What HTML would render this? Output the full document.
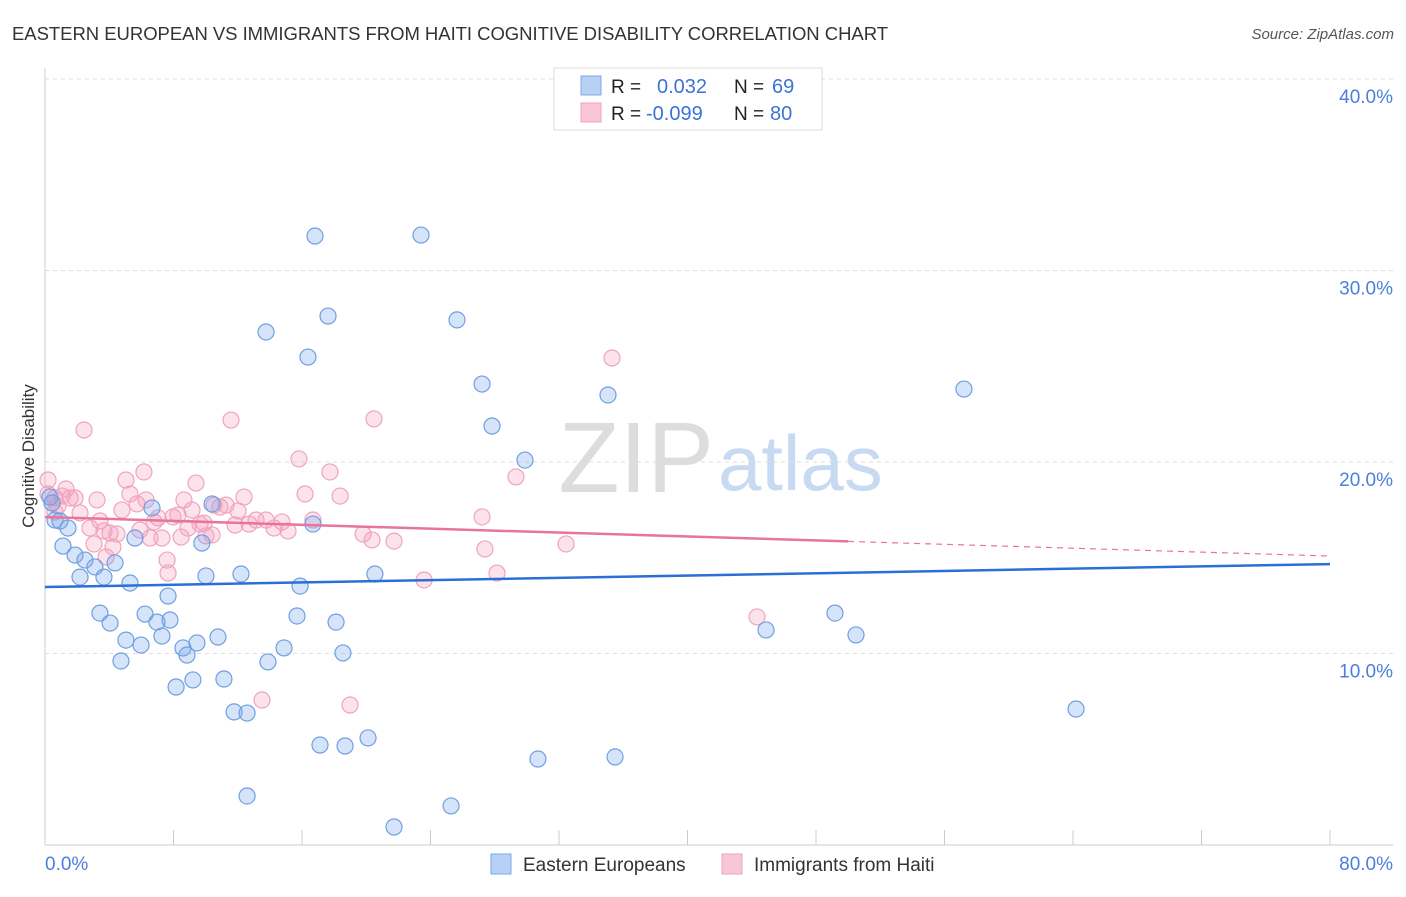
<!DOCTYPE html>
<html><head><meta charset="utf-8"><style>
body{margin:0;background:#fff;font-family:"Liberation Sans",sans-serif;}
svg text{font-family:"Liberation Sans",sans-serif;}
</style></head><body>
<svg id="c" width="1406" height="892">
<text x="12" y="40" font-size="18.5" fill="#333" textLength="876">EASTERN EUROPEAN VS IMMIGRANTS FROM HAITI COGNITIVE DISABILITY CORRELATION CHART</text>
<text x="1394" y="39" font-size="15" font-style="italic" fill="#555" text-anchor="end">Source: ZipAtlas.com</text>
<text x="714" y="492" font-size="100" font-family="Liberation Serif" fill="#ddd" text-anchor="end">ZIP</text>
<text x="718" y="490" font-size="78" fill="#c8daf2">atlas</text>
<text x="34" y="456" font-size="17" fill="#333" text-anchor="middle" transform="rotate(-90 34 456)">Cognitive Disability</text>
<g id="grid"></g><g id="marks"></g>
<g>
<rect x="554" y="68" width="268" height="62" fill="#fff" stroke="#ddd"/>
<rect x="581" y="76" width="20" height="19" fill="#b7d1f5" stroke="#7ea8e6"/>
<rect x="581" y="103" width="20" height="19" fill="#f9c6d6" stroke="#eea3bc"/>
<text x="611" y="93" font-size="19" fill="#222">R =</text><text x="657" y="93" font-size="20" fill="#3b73d6">0.032</text>
<text x="734" y="93" font-size="19" fill="#222">N =</text><text x="772" y="93" font-size="20" fill="#3b73d6">69</text>
<text x="611" y="120" font-size="19" fill="#222">R =</text><text x="646" y="120" font-size="20" fill="#3b73d6">-0.099</text>
<text x="734" y="120" font-size="19" fill="#222">N =</text><text x="770" y="120" font-size="20" fill="#3b73d6">80</text>
</g>
<g>
<rect x="491" y="854" width="20" height="20" fill="#b7d1f5" stroke="#7ea8e6"/>
<text x="523" y="871" font-size="19" fill="#333">Eastern Europeans</text>
<rect x="722" y="854" width="20" height="20" fill="#f9c6d6" stroke="#eea3bc"/>
<text x="754" y="871" font-size="19" fill="#333">Immigrants from Haiti</text>
</g>
</svg>
<script>
const yTicks=[10,20,30,40];
const xLabels=["0.0%","80.0%"];
const bluePx=[[50,497],[55,520],[60,521],[68,528],[63,546],[75,555],[80,577],[85,560],[95,567],[104,577],[115,563],[100,613],[110,623],[130,583],[126,640],[141,645],[121,661],[135,538],[145,614],[152,508],[157,622],[162,636],[170,620],[168,596],[176,687],[183,648],[187,655],[193,680],[197,643],[202,543],[206,576],[212,504],[218,637],[224,679],[234,712],[241,574],[247,713],[247,796],[266,332],[268,662],[284,648],[297,616],[300,586],[308,357],[313,524],[315,236],[320,745],[328,316],[336,622],[343,653],[345,746],[368,738],[375,574],[394,827],[421,235],[451,806],[457,320],[482,384],[492,426],[525,460],[538,759],[608,395],[615,757],[766,630],[835,613],[856,635],[964,389],[1076,709],[52,503]];
const pinkPx=[[48,494],[52,503],[55,498],[58,506],[62,496],[66,489],[70,498],[75,498],[80,513],[84,430],[90,528],[94,544],[97,500],[100,521],[104,531],[106,557],[110,533],[113,547],[117,534],[122,510],[126,480],[130,494],[137,504],[140,530],[144,472],[146,500],[150,538],[154,522],[158,518],[162,538],[167,560],[168,573],[173,517],[178,515],[181,537],[184,500],[188,528],[192,510],[196,483],[200,524],[204,523],[206,536],[212,535],[214,505],[220,507],[226,505],[231,420],[235,525],[238,511],[244,497],[249,524],[256,520],[262,700],[266,520],[274,528],[282,522],[288,531],[299,459],[305,494],[313,520],[330,472],[340,496],[350,705],[363,534],[372,540],[374,419],[394,541],[424,580],[482,517],[485,549],[497,573],[516,477],[566,544],[612,358],[757,617],[55,512],[48,480]];
const blueX=bluePx.map(p=>+((p[0]-45)/16.0625).toFixed(2)), blueY=bluePx.map(p=>+((845-p[1])/19.15).toFixed(2));
const pinkX=pinkPx.map(p=>+((p[0]-45)/16.0625).toFixed(2)), pinkY=pinkPx.map(p=>+((845-p[1])/19.15).toFixed(2));
const blueTrend=[13.47,14.67], pinkTrend=[17.13,15.09], pinkSolidEnd=50;
const X=v=>45+v*16.0625, Y=v=>845-v*19.15;
const NS="http://www.w3.org/2000/svg";
function mk(t,a,p){const e=document.createElementNS(NS,t);for(const k in a)e.setAttribute(k,a[k]);p.appendChild(e);return e;}
const g=document.getElementById('grid'), m=document.getElementById('marks');
yTicks.forEach(t=>{
 const l=mk('line',{x1:45,x2:1393,y1:Y(t),y2:Y(t),stroke:'#ddd','stroke-dasharray':'4 4'},g);
 
 
 const tx=mk('text',{x:1393,y:Y(t)+24,'font-size':19,fill:'#4a7fdc','text-anchor':'end'},g);
 tx.textContent=t.toFixed(1)+'%';
 
 
});
const ax=mk('line',{x1:45,x2:45,y1:68,y2:845,stroke:'#ccc'},g);


const bx=mk('line',{x1:45,x2:1393,y1:845,y2:845,stroke:'#ccc'},g);


for(let i=0;i<=10;i++){const t=mk('line',{x1:X(i*8),x2:X(i*8),y1:830,y2:845,stroke:'#ccc'},g);
 
 }
[[xLabels[0],45,'start'],[xLabels[1],1393,'end']].forEach(([s,x,a],i)=>{const t=mk('text',{x:x,y:870,'font-size':19,fill:'#4a7fdc','text-anchor':a},g);t.textContent=s;
 
 });
pinkX.forEach((x,i)=>{const c=mk('circle',{cx:X(x),cy:Y(pinkY[i]),r:8,fill:'rgba(244,160,190,0.3)',stroke:'#f0a3bd','stroke-width':1.2},m);
 
 });
blueX.forEach((x,i)=>{const c=mk('circle',{cx:X(x),cy:Y(blueY[i]),r:8,fill:'rgba(120,165,235,0.3)',stroke:'#6f9fe2','stroke-width':1.2},m);
 
 });
const pAt=x=>pinkTrend[0]+(pinkTrend[1]-pinkTrend[0])*x/80;
const pl=mk('line',{x1:X(0),y1:Y(pinkTrend[0]),x2:X(pinkSolidEnd),y2:Y(pAt(pinkSolidEnd)),stroke:'#e8749a','stroke-width':2.5},m);


const pd=mk('line',{x1:X(pinkSolidEnd),y1:Y(pAt(pinkSolidEnd)),x2:X(80),y2:Y(pinkTrend[1]),stroke:'#e8749a','stroke-width':1.2,'stroke-dasharray':'6 5'},m);


const bl=mk('line',{x1:X(0),y1:Y(blueTrend[0]),x2:X(80),y2:Y(blueTrend[1]),stroke:'#2a6fd6','stroke-width':2.5},m);


</script>
</body></html>
